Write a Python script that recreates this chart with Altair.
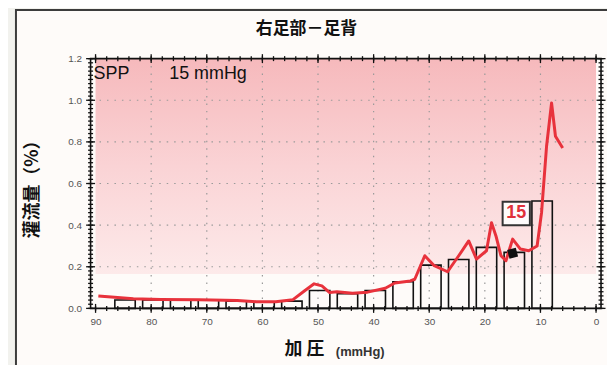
import altair as alt
import pandas as pd

# ---------------- data ----------------
bar_centers = [84.7, 79.7, 74.7, 69.7, 64.7, 59.7, 54.7, 49.7, 44.7, 39.7, 34.7, 29.7, 24.7, 19.7, 14.7, 9.7]
bar_heights = [0.040, 0.040, 0.040, 0.040, 0.035, 0.030, 0.035, 0.086, 0.070, 0.086, 0.128, 0.208, 0.235, 0.293, 0.269, 0.516]

line_x = [89.5, 86.6, 83.2, 78.3, 71.4, 64.5, 61.1, 57.6, 54.5, 52.4, 50.7, 49.3, 47.9, 46.6, 43.8, 41.1,
          37.9, 36.2, 33.4, 32.6, 30.8, 29.1, 26.7, 24.7, 22.9, 21.5, 19.7, 18.8, 18.0, 17.1, 16.2, 15.0,
          13.6, 12.1, 10.6, 9.8, 8.9, 8.0, 7.3, 6.0]
line_y = [0.060, 0.053, 0.046, 0.043, 0.042, 0.038, 0.032, 0.032, 0.042, 0.085, 0.118, 0.108, 0.076, 0.080, 0.073, 0.078,
          0.097, 0.122, 0.132, 0.140, 0.253, 0.205, 0.176, 0.253, 0.324, 0.237, 0.277, 0.412, 0.348, 0.253, 0.229, 0.333,
          0.285, 0.277, 0.300, 0.460, 0.779, 0.987, 0.827, 0.771]

spp_value = [15.0]
spp_marker_y = [0.265]
box_x1, box_x2, box_y1, box_y2 = [16.8], [11.9], [0.400], [0.512]
box_label = ["15"]

x_major = [90, 80, 70, 60, 50, 40, 30, 20, 10, 0]
y_major = [0.0, 0.2, 0.4, 0.6, 0.8, 1.0, 1.2]
x_minor = [v for v in range(0, 91, 2)]
y_minor = [round(i * 0.02, 2) for i in range(0, 61)]
x_grid = [80, 70, 60, 50, 40, 30, 20, 10]
y_grid = [0.2, 0.4, 0.6, 0.8, 1.0]

band = {"x1": [90], "x2": [0], "y1": [1.2], "y2": [0.165]}

title_text = "右足部－足背"
ytitle_text = "灌流量（%）"
xtitle_main = "加 圧"
xtitle_unit = "(mmHg)"
spp_label = "SPP"
spp_text = "15 mmHg"

# ---------------- layout ----------------
W, H = 513, 251
xs = alt.Scale(domain=[90, 0], nice=False, zero=False)
ys = alt.Scale(domain=[0, 1.2], nice=False, zero=False)
CJK = "Noto Sans CJK JP"
LAT = "Liberation Sans"

x_axis = alt.Axis(values=x_major, format="d", labelFontSize=10, labelColor="#555", labelFont=LAT,
                  labelPadding=8, grid=False, domain=False, ticks=False, title=None, zindex=2)
y_axis = alt.Axis(values=y_major, format=".1f", labelFontSize=10, labelColor="#555", labelFont=LAT,
                  labelPadding=9, grid=False, domain=False, ticks=False, title=None, zindex=2)


def X(field):
    return alt.X(field, scale=xs, axis=x_axis)


def Y(field):
    return alt.Y(field, scale=ys, axis=y_axis)


one = alt.Data(values=[{}])

card = alt.Chart(one).mark_rect(fill="#fefbf9", stroke="#3c3c3c", strokeWidth=2).encode(
    x=alt.value(-75), x2=alt.value(W + 60), y=alt.value(-49), y2=alt.value(H + 90)
)

grad = alt.LinearGradient(
    gradient="linear",
    stops=[alt.GradientStop(offset=0, color="#f6b9bc"),
           alt.GradientStop(offset=0.5, color="#fad3d5"),
           alt.GradientStop(offset=1, color="#fdeaea")],
    x1=0, x2=0, y1=0, y2=1,
)

pink = alt.Chart(pd.DataFrame(band)).mark_rect(color=grad).encode(
    x=X("x1:Q"), x2="x2:Q", y=Y("y1:Q"), y2="y2:Q",
)

gx = alt.Chart(pd.DataFrame({"v": x_grid})).mark_rule(color="#9a9a9a", strokeWidth=1.2, strokeDash=[1.5, 6]).encode(
    x=X("v:Q"))
gy = alt.Chart(pd.DataFrame({"v": y_grid})).mark_rule(color="#9a9a9a", strokeWidth=1.2, strokeDash=[1.5, 6]).encode(
    y=Y("v:Q"))


def xticks(vals, half, at):
    return alt.Chart(pd.DataFrame({"v": vals})).mark_rule(color="#111", strokeWidth=1.3).encode(
        x=X("v:Q"), y=alt.value(at - half), y2=alt.value(at + half))


def yticks(vals, half, at):
    return alt.Chart(pd.DataFrame({"v": vals})).mark_rule(color="#111", strokeWidth=1.3).encode(
        y=Y("v:Q"), x=alt.value(at - half), x2=alt.value(at + half))


ticks = [
    xticks(x_minor, 2.5, H), xticks(x_major, 4.5, H),
    xticks(x_minor, 2.5, 0), xticks(x_major, 4.5, 0),
    yticks(y_minor, 2.5, 0), yticks(y_major, 4.5, 0),
    yticks(y_minor, 2.5, W), yticks(y_major, 4.5, W),
]

bars = alt.Chart(pd.DataFrame({"p": bar_centers, "v": bar_heights})).mark_bar(
    size=20.5, fillOpacity=0, stroke="#111", strokeWidth=1.6
).encode(x=X("p:Q"), y=Y("v:Q"))

line = alt.Chart(pd.DataFrame({"p": line_x, "v": line_y})).mark_line(
    color="#e8323c", strokeWidth=3, interpolate="linear", strokeJoin="round"
).encode(x=X("p:Q"), y=Y("v:Q"))

marker = alt.Chart(pd.DataFrame({"p": spp_value, "v": spp_marker_y})).mark_point(
    shape="diamond", filled=True, color="#111", size=160, angle=30, opacity=1
).encode(x=X("p:Q"), y=Y("v:Q"))

box = alt.Chart(pd.DataFrame({"x1": box_x1, "x2": box_x2, "y1": box_y1, "y2": box_y2})).mark_rect(
    fill="#fefbfb", stroke="#333", strokeWidth=2
).encode(x=X("x1:Q"), x2="x2:Q", y=Y("y1:Q"), y2="y2:Q")

box_txt = alt.Chart(pd.DataFrame({"p": [(box_x1[0] + box_x2[0]) / 2], "v": [(box_y1[0] + box_y2[0]) / 2], "t": box_label})).mark_text(
    font=LAT, fontSize=18, fontWeight="bold", color="#e0303a", baseline="middle", align="center"
).encode(x=X("p:Q"), y=Y("v:Q"), text="t:N")

spp1 = alt.Chart(one).mark_text(text=spp_label, font=LAT, fontSize=18, color="#111", align="left", baseline="middle").encode(
    x=alt.value(3), y=alt.value(15))
spp2 = alt.Chart(one).mark_text(text=spp_text, font=LAT, fontSize=18, color="#111", align="left", baseline="middle").encode(
    x=alt.value(79), y=alt.value(15))

frame = alt.Chart(one).mark_rect(fillOpacity=0, stroke="#111", strokeWidth=1.6).encode(
    x=alt.value(0), x2=alt.value(W), y=alt.value(0), y2=alt.value(H))

title = alt.Chart(one).mark_text(text=title_text, font=CJK, fontSize=17, fontWeight="bold", color="#111",
                                 align="center", baseline="middle").encode(x=alt.value(217), y=alt.value(-30))
ytitle = alt.Chart(one).mark_text(text=ytitle_text, font=CJK, fontSize=18, fontWeight="bold", color="#111",
                                  align="center", baseline="middle", angle=270).encode(x=alt.value(-58), y=alt.value(127))
xt1 = alt.Chart(one).mark_text(text=xtitle_main, font=CJK, fontSize=18, fontWeight="bold", color="#111",
                               align="center", baseline="middle").encode(x=alt.value(215), y=alt.value(293))
xt2 = alt.Chart(one).mark_text(text=xtitle_unit, font=LAT, fontSize=13, fontWeight="bold", color="#333",
                               align="center", baseline="middle").encode(x=alt.value(271), y=alt.value(295))

chart = alt.layer(
    card, pink, gx, gy, *ticks, bars, line, marker, box, box_txt, spp1, spp2, frame, title, ytitle, xt1, xt2
).properties(
    width=W, height=H, autosize=alt.AutoSizeParams(type="none"),
    padding={"left": 83, "top": 50, "right": 6, "bottom": 56},
    background="#f2f2ee",
).configure_view(stroke=None)

chart.save("out.html", embed_options={"renderer": "svg", "actions": False})
